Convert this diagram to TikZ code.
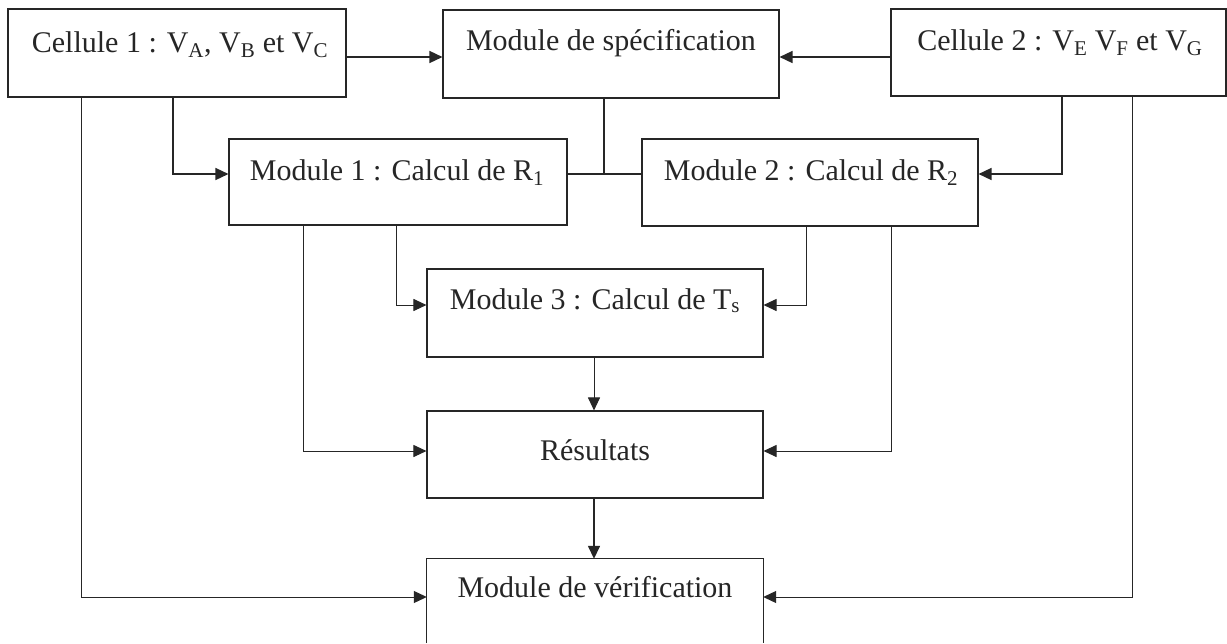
\documentclass[tikz,border=0pt]{standalone}
\usepackage{fontspec}
\setmainfont{Liberation Serif}
\usetikzlibrary{arrows.meta}
\definecolor{ink}{HTML}{262626}
\begin{document}
\begin{tikzpicture}[x=1pt,y=-1pt,
  box/.style={draw=ink, line width=1.1pt, rectangle, inner sep=0pt},
  txt/.style={anchor=base, inner sep=0pt, text=ink, font=\fontsize{30}{36}\selectfont},
  thin/.style={draw=ink, line width=1pt},
  thick/.style={draw=ink, line width=1.5pt},
  arr/.style={-{Triangle[length=13pt,width=12pt]}},
]
\useasboundingbox (0,0) rectangle (1227,643);
\fill[white] (0,0) rectangle (1227,643);

% boxes (centre, size)
\node[box, minimum width=338pt, minimum height=88pt] (c1)   at (177,53) {};
\node[box, minimum width=336pt, minimum height=88pt] (spec) at (611,54) {};
\node[box, minimum width=335pt, minimum height=87pt] (c2)   at (1058.5,52.5) {};
\node[box, minimum width=338pt, minimum height=86pt] (m1)   at (398,182) {};
\node[box, minimum width=336pt, minimum height=87pt] (m2)   at (810,182.5) {};
\node[box, minimum width=336pt, minimum height=88pt] (m3)   at (595,313) {};
\node[box, minimum width=336pt, minimum height=87pt] (res)  at (595,454.5) {};
\node[minimum width=336pt, minimum height=84pt, inner sep=0pt] (ver) at (595,601) {};
\draw[box] (ver.south west) -- (ver.north west) -- (ver.north east) -- (ver.south east);

% labels
\node[txt] (c1t)   at (180,52)  {Cellule 1 : V\textsubscript{A}, V\textsubscript{B} et V\textsubscript{C}};
\node[txt] (spect) at (611,50)  {Module de spécification};
\node[txt] (c2t)   at (1060,50) {Cellule 2 : V\textsubscript{E} V\textsubscript{F} et V\textsubscript{G}};
\node[txt] (m1t)   at (397,180) {Module 1 : Calcul de R\textsubscript{1}};
\node[txt] (m2t)   at (811,180) {Module 2 : Calcul de R\textsubscript{2}};
\node[txt] (m3t)   at (595,309) {Module 3 : Calcul de T\textsubscript{s}};
\node[txt] (rest)  at (595,460) {Résultats};
\node[txt] (vert)  at (595,597) {Module de vérification};

% junction points
\coordinate (jm) at (604,174);

% connectors
\draw[thick,arr] (c1.east |- 0,57) -- (spec.west |- 0,57);
\draw[thick,arr] (c2.west |- 0,57) -- (spec.east |- 0,57);
\draw[thick,arr] (c1.south -| 173,0) |- (m1.west |- 0,174);
\draw[thick,arr] (c2.south -| 1062,0) |- (m2.east |- 0,174);
\draw[thick] (spec.south -| jm) -- (jm);
\draw[thick] (m1.east |- jm) -- (m2.west |- jm);
\draw[thin,arr] (c1.south -| 81,0) |- (ver.west |- 0,597);
\draw[thin,arr] (c2.south -| 1132,0) |- (ver.east |- 0,597);
\draw[thin,arr] (m1.south -| 396,0) |- (m3.west |- 0,305);
\draw[thin,arr] (m1.south -| 303,0) |- (res.west |- 0,451);
\draw[thin,arr] (m2.south -| 806,0) |- (m3.east |- 0,305);
\draw[thin,arr] (m2.south -| 891,0) |- (res.east |- 0,451);
\draw[thin,arr] (m3.south -| 594,0) -- (res.north -| 594,0);
\draw[thick,arr] (res.south -| 594,0) -- (ver.north -| 594,0);
\end{tikzpicture}
\end{document}
